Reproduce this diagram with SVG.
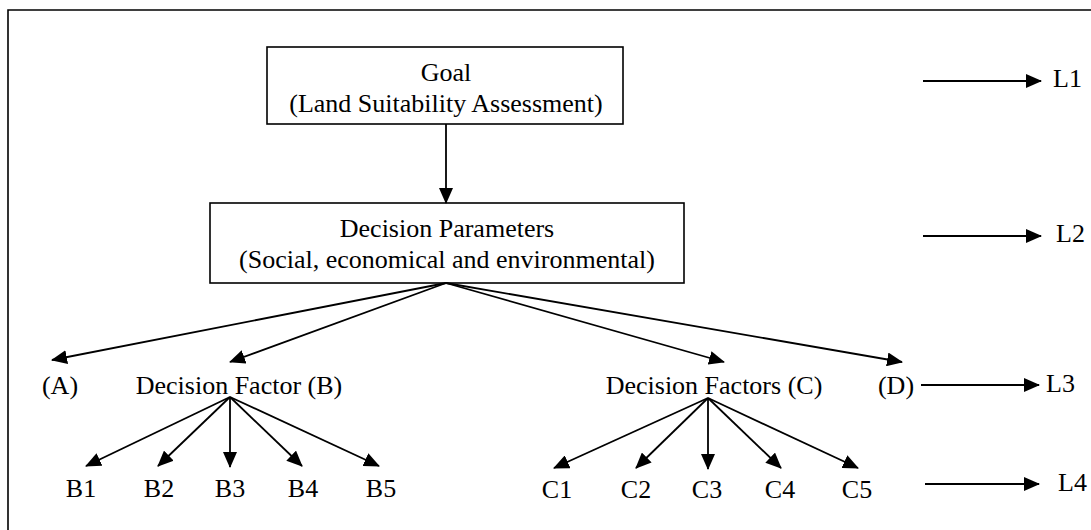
<svg xmlns="http://www.w3.org/2000/svg" width="1091" height="530" viewBox="0 0 1091 530">
<style>
.box{fill:#fff;stroke:#000;stroke-width:1.6}
.frame{fill:none;stroke:#000;stroke-width:1.6}
.con line{stroke:#000;stroke-width:1.8;marker-end:url(#ah)}
text{font-family:"Liberation Serif","Times New Roman",serif;font-size:26px;fill:#000}
.c{text-anchor:middle}
</style>
<defs>
<marker id="ah" markerUnits="userSpaceOnUse" markerWidth="16" markerHeight="14" refX="15" refY="7" orient="auto" viewBox="0 0 16 14">
<path d="M0,0 L16,7 L0,14 z" fill="#000"/>
</marker>
</defs>
<rect width="1091" height="530" fill="#fff"/>
<path class="frame" d="M8,530 L8,10 L1091,10"/>
<g id="goal">
<rect class="box" x="267" y="47" width="356" height="77"/>
<text class="c" x="446" y="81">Goal</text>
<text class="c" x="446" y="112">(Land Suitability Assessment)</text>
</g>
<g id="params">
<rect class="box" x="210" y="203" width="474" height="80"/>
<text class="c" x="447" y="237">Decision Parameters</text>
<text class="c" x="447" y="268">(Social, economical and environmental)</text>
</g>
<g id="A"><text class="c" x="60" y="394">(A)</text></g>
<g id="B"><text class="c" x="239" y="394">Decision Factor (B)</text></g>
<g id="C"><text class="c" x="714" y="394">Decision Factors (C)</text></g>
<g id="D"><text class="c" x="896" y="394">(D)</text></g>
<g id="B1"><text class="c" x="81" y="497">B1</text></g>
<g id="B2"><text class="c" x="159" y="497">B2</text></g>
<g id="B3"><text class="c" x="230" y="497">B3</text></g>
<g id="B4"><text class="c" x="303" y="497">B4</text></g>
<g id="B5"><text class="c" x="381" y="497">B5</text></g>
<g id="C1"><text class="c" x="557" y="498">C1</text></g>
<g id="C2"><text class="c" x="636" y="498">C2</text></g>
<g id="C3"><text class="c" x="707" y="498">C3</text></g>
<g id="C4"><text class="c" x="780" y="498">C4</text></g>
<g id="C5"><text class="c" x="857" y="498">C5</text></g>
<g id="L1"><text x="1053" y="87">L1</text></g>
<g id="L2"><text x="1056" y="242">L2</text></g>
<g id="L3"><text x="1046" y="392">L3</text></g>
<g id="L4"><text x="1058" y="491">L4</text></g>
<g class="con" id="connectors">
<line x1="446" y1="124" x2="446" y2="203"/>
<line x1="446" y1="283" x2="52" y2="360"/>
<line x1="446" y1="283" x2="230" y2="362"/>
<line x1="446" y1="283" x2="724" y2="362"/>
<line x1="446" y1="283" x2="902" y2="362"/>
<line x1="230" y1="397" x2="86" y2="466"/>
<line x1="230" y1="397" x2="158" y2="466"/>
<line x1="230" y1="397" x2="230" y2="467"/>
<line x1="230" y1="397" x2="302" y2="466"/>
<line x1="230" y1="397" x2="379" y2="466"/>
<line x1="708" y1="398" x2="554" y2="468"/>
<line x1="708" y1="398" x2="636" y2="468"/>
<line x1="708" y1="398" x2="708" y2="469"/>
<line x1="708" y1="398" x2="781" y2="468"/>
<line x1="708" y1="398" x2="858" y2="468"/>
<line x1="923" y1="81" x2="1041" y2="81"/>
<line x1="923" y1="236" x2="1041" y2="236"/>
<line x1="921" y1="385" x2="1039" y2="385"/>
<line x1="925" y1="484" x2="1039" y2="484"/>
</g>
</svg>
